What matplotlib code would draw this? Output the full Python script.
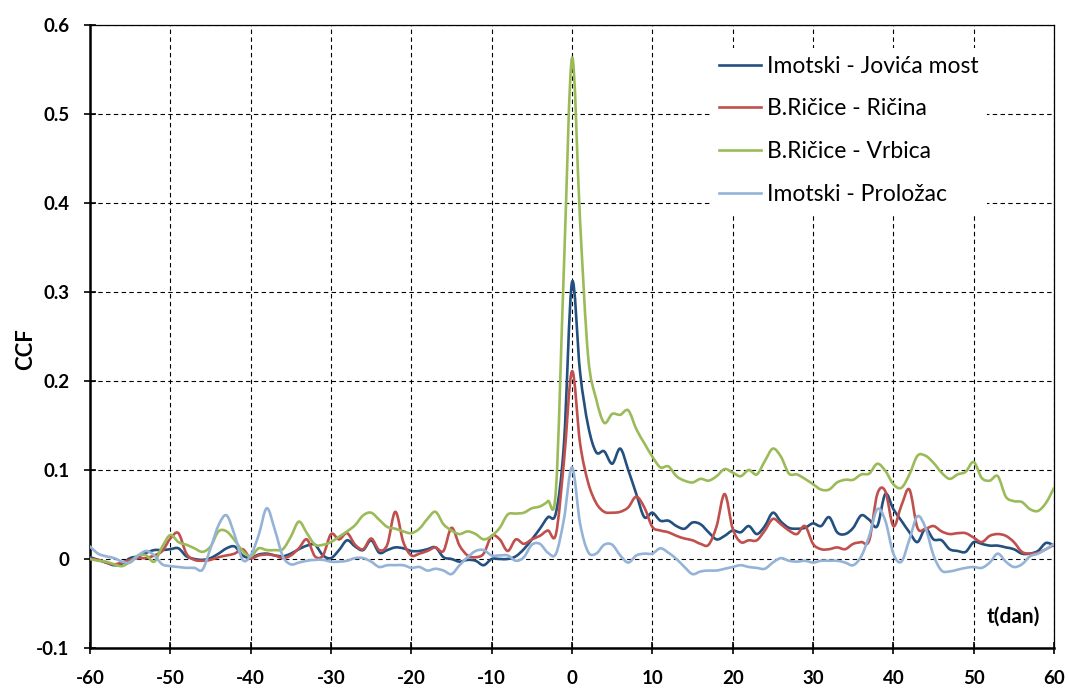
import numpy as np
import matplotlib
matplotlib.use('Agg')
import matplotlib.pyplot as plt
from matplotlib.path import Path
from matplotlib.patches import PathPatch
from matplotlib.lines import Line2D

lags = np.arange(-60, 61)

jovica_most = [
    0.002, -0.001, -0.004, -0.007, -0.005, 0.001, 0.003, 0.007, 0.010, 0.010,
    0.011, 0.012, 0.003, 0.000, -0.001, 0.001, 0.006, 0.012, 0.014, 0.004,
    0.001, 0.005, 0.006, 0.004, 0.003, 0.006, 0.011, 0.015, 0.016, 0.004,
    0.001, 0.010, 0.021, 0.014, 0.010, 0.021, 0.007, 0.010, 0.013, 0.012,
    0.009, 0.009, 0.011, 0.013, 0.002, 0.000, -0.003, -0.001, -0.002, -0.007,
    0.000, 0.000, 0.000, 0.003, 0.011, 0.022, 0.034, 0.047, 0.052, 0.130,
    0.311, 0.210, 0.150, 0.120, 0.121, 0.107, 0.124, 0.100, 0.073, 0.047,
    0.052, 0.043, 0.043, 0.037, 0.034, 0.041, 0.039, 0.030, 0.022, 0.026,
    0.032, 0.030, 0.037, 0.028, 0.037, 0.052, 0.042, 0.035, 0.034, 0.035,
    0.040, 0.037, 0.047, 0.030, 0.028, 0.035, 0.049, 0.044, 0.037, 0.073,
    0.056, 0.043, 0.030, 0.019, 0.034, 0.022, 0.021, 0.011, 0.009, 0.008,
    0.019, 0.017, 0.015, 0.015, 0.013, 0.011, 0.006, 0.006, 0.009, 0.018,
    0.015,
]

ricina = [
    0.000, -0.001, -0.004, -0.006, -0.004, -0.001, 0.001, 0.001, 0.004, 0.009,
    0.023, 0.029, 0.006, -0.001, -0.002, -0.001, 0.002, 0.004, 0.006, 0.011,
    0.001, 0.004, 0.005, 0.004, 0.001, 0.004, 0.012, 0.022, 0.003, 0.004,
    0.028, 0.022, 0.029, 0.016, 0.011, 0.023, 0.010, 0.016, 0.053, 0.019,
    0.004, 0.006, 0.009, 0.013, 0.009, 0.035, 0.015, 0.004, 0.002, 0.006,
    0.026, 0.022, 0.009, 0.022, 0.017, 0.022, 0.026, 0.032, 0.028, 0.110,
    0.211, 0.130, 0.086, 0.063, 0.053, 0.052, 0.053, 0.058, 0.070, 0.058,
    0.036, 0.032, 0.030, 0.026, 0.023, 0.021, 0.017, 0.016, 0.037, 0.073,
    0.034, 0.019, 0.021, 0.021, 0.032, 0.045, 0.039, 0.032, 0.028, 0.037,
    0.017, 0.011, 0.011, 0.013, 0.011, 0.017, 0.019, 0.021, 0.073, 0.076,
    0.037, 0.060, 0.078, 0.035, 0.034, 0.037, 0.031, 0.028, 0.029, 0.029,
    0.024, 0.019, 0.026, 0.028, 0.026, 0.019, 0.008, 0.006, 0.007, 0.011,
    0.016,
]

vrbica = [
    0.000, -0.002, -0.003, -0.006, -0.008, -0.003, 0.004, 0.004, -0.003, 0.014,
    0.027, 0.019, 0.016, 0.012, 0.008, 0.014, 0.031, 0.031, 0.021, 0.009,
    0.003, 0.012, 0.010, 0.010, 0.011, 0.025, 0.042, 0.029, 0.016, 0.016,
    0.019, 0.025, 0.031, 0.038, 0.049, 0.052, 0.044, 0.036, 0.034, 0.031,
    0.029, 0.034, 0.045, 0.053, 0.039, 0.032, 0.028, 0.031, 0.028, 0.022,
    0.026, 0.035, 0.050, 0.051, 0.052, 0.057, 0.059, 0.065, 0.078, 0.330,
    0.563, 0.380, 0.228, 0.180, 0.153, 0.163, 0.162, 0.167, 0.146, 0.130,
    0.115, 0.103, 0.104, 0.093, 0.088, 0.086, 0.090, 0.088, 0.093, 0.101,
    0.097, 0.093, 0.100, 0.095, 0.110, 0.124, 0.115, 0.096, 0.095, 0.090,
    0.084, 0.078, 0.078, 0.086, 0.089, 0.089, 0.095, 0.096, 0.107, 0.099,
    0.084, 0.080, 0.095, 0.116, 0.116, 0.108, 0.097, 0.090, 0.095, 0.098,
    0.109, 0.091, 0.088, 0.093, 0.070, 0.065, 0.064, 0.056, 0.054, 0.063,
    0.080,
]

prolozac = [
    0.014, 0.006, 0.003, 0.001, -0.003, -0.004, 0.004, 0.009, 0.004, -0.006,
    -0.008, -0.009, -0.010, -0.010, -0.012, 0.012, 0.038, 0.049, 0.027, -0.001,
    0.004, 0.027, 0.057, 0.033, 0.003, -0.006, -0.004, -0.002, -0.001, -0.001,
    -0.003, -0.003, -0.002, 0.001, 0.001, -0.003, -0.009, -0.007, -0.007, -0.007,
    -0.010, -0.009, -0.013, -0.011, -0.013, -0.017, -0.007, 0.002, 0.009, 0.010,
    0.004, 0.004, 0.004, -0.002, 0.002, 0.016, 0.017, 0.007, 0.006, 0.045,
    0.103, 0.040, 0.008, 0.006, 0.016, 0.016, 0.004, -0.004, 0.004, 0.006,
    0.006, 0.012, 0.007, 0.000, -0.009, -0.017, -0.014, -0.013, -0.013, -0.011,
    -0.009, -0.007, -0.009, -0.010, -0.011, -0.004, 0.001, -0.002, -0.003, -0.002,
    -0.004, -0.002, -0.002, -0.002, -0.004, -0.007, 0.003, 0.026, 0.056, 0.043,
    0.006, -0.003, 0.022, 0.048, 0.035, 0.004, -0.013, -0.014, -0.012, -0.010,
    -0.009, -0.010, -0.004, 0.006, -0.003, -0.009, -0.006, 0.003, 0.006, 0.011,
    0.017,
]

series_names = ['Imotski - Jovića most', 'B.Ričice - Ričina',
                'B.Ričice - Vrbica', 'Imotski - Proložac']
colors = ['#24507f', '#c0504d', '#9bbb59', '#95b3d7']


def smooth_path(x, y):
    # Excel-style smoothed line: cubic Bezier through every data point
    pts = np.column_stack([x, y]).astype(float)
    ext = np.vstack([pts[0], pts, pts[-1]])
    verts = [pts[0]]
    codes = [Path.MOVETO]
    for i in range(len(pts) - 1):
        p0, p1, p2, p3 = ext[i], ext[i + 1], ext[i + 2], ext[i + 3]
        verts += [p1 + (p2 - p0) / 6, p2 - (p3 - p1) / 6, p2]
        codes += [Path.CURVE4] * 3
    return Path(verts, codes)


plt.rcParams['font.family'] = ['Lato', 'DejaVu Sans']

fig = plt.figure(figsize=(10.69, 6.90), dpi=100)
ax = fig.add_axes([0.0842, 0.0609, 0.9018, 0.9029])

handles = []
for vals, name, c in zip([jovica_most, ricina, vrbica, prolozac], series_names, colors):
    ax.add_patch(PathPatch(smooth_path(lags, vals), facecolor='none', edgecolor=c,
                           lw=1.9, joinstyle='round', capstyle='round', zorder=3))
    handles.append(Line2D([], [], color=c, lw=1.9, label=name))

ax.set_xlim(-60, 60)
ax.set_ylim(-0.1, 0.6)
xt = np.arange(-60, 61, 10)
yt = np.round(np.arange(-0.1, 0.61, 0.1), 1)
ax.set_xticks(xt)
ax.set_yticks(yt)
ax.set_xticklabels([str(v) for v in xt], fontweight='bold', fontsize=13.5)
ax.set_yticklabels(['0' if v == 0 else f'{v:.1f}' for v in yt], fontweight='bold', fontsize=13.5)
ax.tick_params(axis='both', direction='inout', length=8, width=1.2, pad=11)
ax.tick_params(axis='x', pad=12)

ax.grid(True, color='black', ls=(0, (4, 3)), lw=0.8)
ax.set_axisbelow(True)
for s in ['left', 'bottom']:
    ax.spines[s].set_linewidth(1.8)
for s in ['top', 'right']:
    ax.spines[s].set_linewidth(0.9)

ax.set_ylabel('CCF', fontweight='bold', fontsize=16)
ax.yaxis.set_label_coords(-0.056, 0.48)
ax.text(0.985, 0.035, 't(dan)', transform=ax.transAxes, ha='right', va='bottom',
        fontweight='bold', fontsize=15)

leg = ax.legend(handles=handles, loc='upper right', bbox_to_anchor=(0.942, 0.982),
                fontsize=16.5, frameon=True, fancybox=False, edgecolor='none',
                framealpha=1, handlelength=1.85, handletextpad=0.25,
                labelspacing=0.95, borderpad=0.35)
leg.set_zorder(5)

fig.savefig('out.png', dpi=100)
